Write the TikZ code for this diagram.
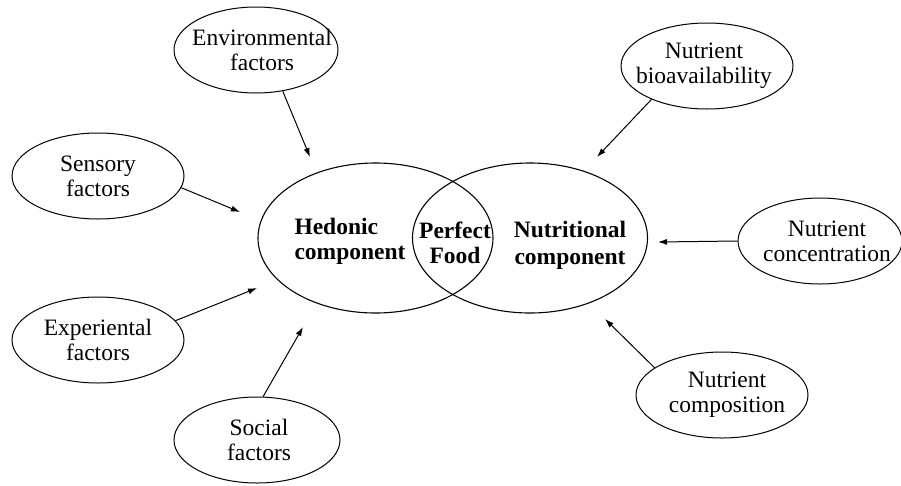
\documentclass[tikz,border=0pt]{standalone}
\usepackage{fontspec}
\setmainfont{Liberation Serif}
\usetikzlibrary{shapes.geometric,arrows.meta}
\begin{document}
\begin{tikzpicture}[x=1pt,y=-1pt,
  oval/.style={ellipse, draw, line width=1pt, inner sep=0pt},
  bigoval/.style={ellipse, draw, line width=1.1pt, inner sep=0pt, minimum width=235pt, minimum height=150pt},
  txt/.style={align=center, inner sep=0pt, font=\fontsize{23.5}{25}\selectfont},
  btxt/.style={inner sep=0pt, font=\bfseries\fontsize{23.5}{25}\selectfont},
  arr/.style={-{Latex[length=9pt,width=6pt]}, line width=1pt}]
\useasboundingbox (0,0) rectangle (901,485);
% big ellipses
\node[bigoval] (hed) at (375.5,238) {};
\node[bigoval] (nut) at (530,238) {};
\node[btxt, align=left] (hedt) at (350,241) {Hedonic\\component};
\node[btxt, align=center] (pft) at (455,243) {Perfect\\Food};
\node[btxt, align=center, font=\bfseries\fontsize{23.5}{27}\selectfont] (nutt) at (570,245) {Nutritional\\component};
% small ellipses
\node[oval, minimum width=164pt, minimum height=86pt] (env) at (256,50) {};
\node[txt] (envt) at (262,50) {Environmental\\factors};
\node[oval, minimum width=172pt, minimum height=86pt] (sens) at (98,176) {};
\node[txt] (senst) at (sens) {Sensory\\factors};
\node[oval, minimum width=172pt, minimum height=86pt] (exp) at (98,340) {};
\node[txt] (expt) at (exp) {Experiental\\factors};
\node[oval, minimum width=166pt, minimum height=86pt] (soc) at (257,440) {};
\node[txt] (soct) at (259,440) {Social\\factors};
\node[oval, minimum width=172pt, minimum height=86pt] (bio) at (707,66) {};
\node[txt] (biot) at (704,66) {Nutrient\\bioavailability};
\node[oval, minimum width=164pt, minimum height=86pt] (conc) at (820,241) {};
\node[txt] (conct) at (827,241) {Nutrient\\concentration};
\node[oval, minimum width=172pt, minimum height=86pt] (comp) at (722,395) {};
\node[txt] (compt) at (727,395) {Nutrient\\composition};
% arrow tips
\coordinate (tenv) at (310,157);
\coordinate (tsens) at (240,212);
\coordinate (texp) at (257,288);
\coordinate (tsoc) at (303,327);
\coordinate (tbio) at (597,157);
\coordinate (tconc) at (658,242);
\coordinate (tcomp) at (605,319);
\draw[arr] (env.-57) -- (tenv);
\draw[arr] (sens.-8) -- (tsens);
\draw[arr] (exp.14) -- (texp);
\draw[arr] (soc.82) -- (tsoc);
\draw[arr] (bio.211) -- (tbio);
\draw[arr] (conc.180) -- (tconc);
\draw[arr] (comp.158) -- (tcomp);
\end{tikzpicture}
\end{document}
